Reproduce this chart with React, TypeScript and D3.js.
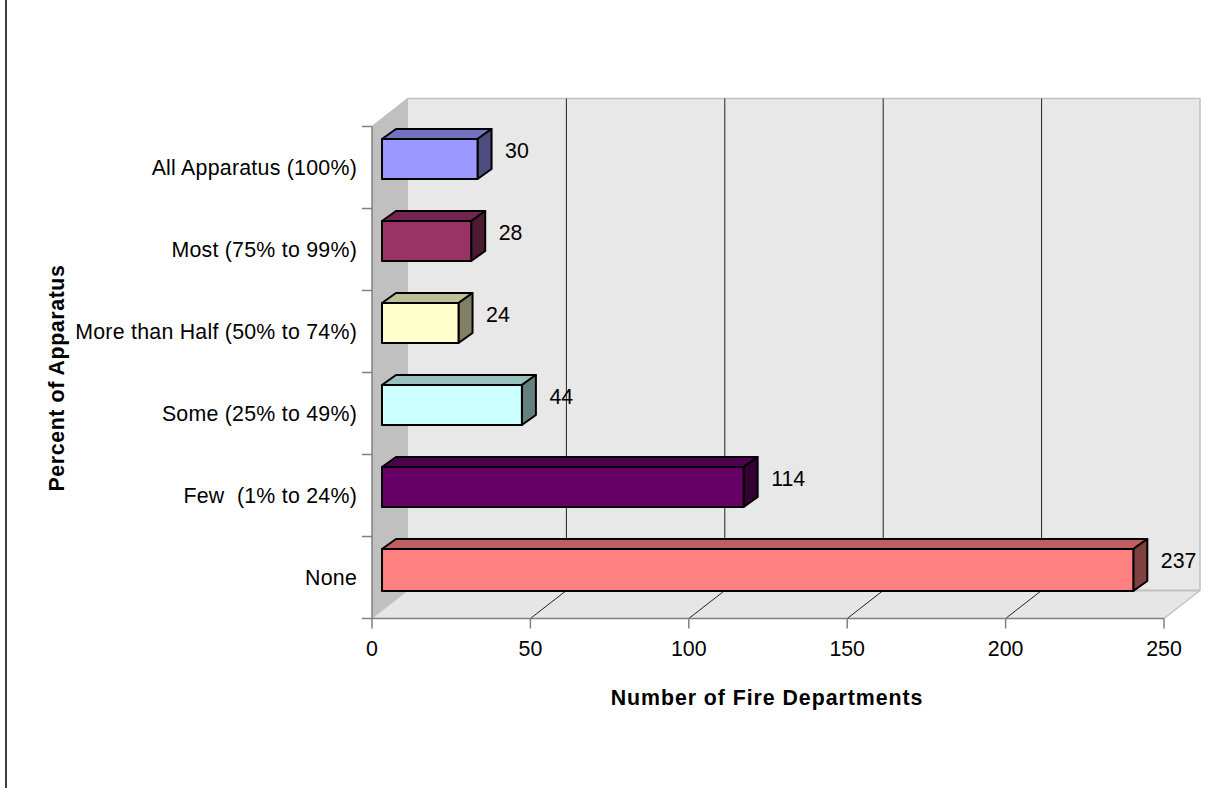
import React from 'react';
import * as d3 from 'd3';

const categories = ['All Apparatus (100%)', 'Most (75% to 99%)', 'More than Half (50% to 74%)', 'Some (25% to 49%)', 'Few  (1% to 24%)', 'None'];
const values = [30, 28, 24, 44, 114, 237];
const barColors = ['#9999ff', '#993366', '#ffffcc', '#ccffff', '#660066', '#ff8080'];
const xTicks = [0, 50, 100, 150, 200, 250];

const width = 1215;
const height = 788;
const left = 372;
const right = 1164;
const top = 126.5;
const bottom = 618.5;
// 3D offset of the back wall
const depthX = 36;
const depthY = -28;
// 3D offset of a bar, and where it starts from the axis
const barDepthX = 14;
const barDepthY = -10;
const barStart = 10;
const barHeight = 40;
const labelSize = 21.33;

const font = '"Liberation Sans", Arial, sans-serif';

const shade = (color: string, k: number) => {
  const c = d3.rgb(color);
  return d3.rgb(c.r * k, c.g * k, c.b * k).formatHex();
};

const poly = (pts: number[][]) => pts.map(p => p.join(',')).join(' ');

export default function App() {
  const x = d3.scaleLinear().domain([0, 250]).range([left, right]);
  const y = d3.scaleBand().domain(categories).range([top, bottom]);
  const step = y.step();
  const yEdges = d3.range(categories.length + 1).map(i => top + i * step);

  return (
    <svg
      width={width}
      height={height}
      style={{ position: 'absolute', left: 0, top: 0, background: '#fff' }}
      fontFamily={font}
    >
      <line x1={6} y1={0} x2={6} y2={height} stroke="#404040" strokeWidth={2} />

      {/* walls and floor */}
      <polygon
        points={poly([[left, top], [left + depthX, top + depthY], [left + depthX, bottom + depthY], [left, bottom]])}
        fill="#c0c0c0"
      />
      <polygon
        points={poly([[left + depthX, top + depthY], [right + depthX, top + depthY], [right + depthX, bottom + depthY], [left + depthX, bottom + depthY]])}
        fill="#e8e8e8"
      />
      <polygon
        points={poly([[left, bottom], [left + depthX, bottom + depthY], [right + depthX, bottom + depthY], [right, bottom]])}
        fill="#e6e6e6"
      />
      <polyline
        points={poly([[left, top], [left + depthX, top + depthY], [right + depthX, top + depthY], [right + depthX, bottom + depthY], [right, bottom]])}
        fill="none"
        stroke="#c0c0c0"
        strokeWidth={1.5}
      />
      <line x1={left + depthX} y1={bottom + depthY} x2={right + depthX} y2={bottom + depthY} stroke="#c0c0c0" strokeWidth={2} />
      <line x1={left} y1={bottom} x2={left + depthX} y2={bottom + depthY} stroke="#c8c8c8" />

      {/* gridlines */}
      {xTicks.slice(1, -1).map(t => (
        <polyline
          key={t}
          points={poly([[x(t), bottom], [x(t) + depthX, bottom + depthY], [x(t) + depthX, top + depthY]])}
          fill="none"
          stroke="#222"
          strokeWidth={1}
        />
      ))}

      {/* axes */}
      <line x1={left} y1={top} x2={left} y2={bottom} stroke="#808080" strokeWidth={1.5} />
      <line x1={left} y1={bottom} x2={right} y2={bottom} stroke="#808080" strokeWidth={1.5} />
      {yEdges.map(v => (
        <line key={v} x1={left - 10} y1={v} x2={left} y2={v} stroke="#808080" strokeWidth={1.5} />
      ))}
      {xTicks.map(t => (
        <line key={t} x1={x(t)} y1={bottom} x2={x(t)} y2={bottom + 10} stroke="#808080" strokeWidth={1.5} />
      ))}

      {/* bars */}
      {categories.map((c, i) => {
        const x0 = left + barStart;
        const x1 = x0 + (x(values[i]) - left) + 0.5;
        const y0 = (y(c) as number) + 12.5;
        // the bottom bar sits on the floor and comes out a little taller
        const y1 = y0 + barHeight + (i === categories.length - 1 ? 2 : 0);
        const color = barColors[i];
        return (
          <g key={c} stroke="#000" strokeWidth={2} strokeLinejoin="round">
            <polygon
              points={poly([[x0, y0], [x0 + barDepthX, y0 + barDepthY], [x1 + barDepthX, y0 + barDepthY], [x1, y0]])}
              fill={shade(color, 0.75)}
            />
            <polygon
              points={poly([[x1, y0], [x1 + barDepthX, y0 + barDepthY], [x1 + barDepthX, y1 + barDepthY], [x1, y1]])}
              fill={shade(color, 0.5)}
            />
            <rect x={x0} y={y0} width={x1 - x0} height={y1 - y0} fill={color} />
          </g>
        );
      })}

      {/* value labels */}
      {categories.map((c, i) => (
        <text
          key={c}
          x={left + barStart + (x(values[i]) - left) + 28}
          y={(y(c) as number) + 31}
          fontSize={labelSize}
          fill="#000"
        >
          {values[i]}
        </text>
      ))}

      {/* category labels */}
      {categories.map(c => (
        <text
          key={c}
          x={357}
          y={(y(c) as number) + 48.5}
          textAnchor="end"
          fontSize={labelSize}
          letterSpacing={0.25}
          fill="#000"
          style={{ whiteSpace: 'pre' }}
        >
          {c}
        </text>
      ))}

      {xTicks.map(t => (
        <text key={t} x={x(t)} y={655.5} textAnchor="middle" fontSize={labelSize} fill="#000">
          {t}
        </text>
      ))}

      <text x={767} y={705} textAnchor="middle" fontSize={labelSize} fontWeight="bold" letterSpacing={0.95} fill="#000">
        Number of Fire Departments
      </text>
      <text
        transform="translate(64,378) rotate(-90)"
        textAnchor="middle"
        fontSize={labelSize}
        fontWeight="bold"
        letterSpacing={0.6}
        fill="#000"
      >
        Percent of Apparatus
      </text>
    </svg>
  );
}
